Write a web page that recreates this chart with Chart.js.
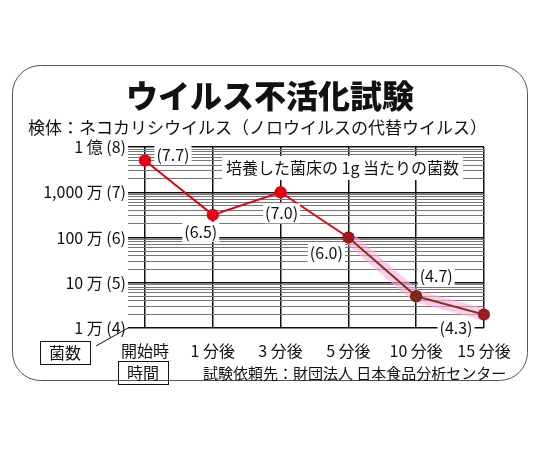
<!DOCTYPE html>
<html><head><meta charset="utf-8">
<script src="https://cdn.jsdelivr.net/npm/chart.js@4"></script>
<style>body{margin:0;background:#fff}#wrap{width:540px;height:450px}</style>
</head><body><div id="wrap"><canvas id="c"></canvas></div>
<script>
const categories = ['開始時', '1 分後', '3 分後', '5 分後', '10 分後', '15 分後'];
const logCounts = [7.7, 6.5, 7.0, 6.0, 4.7, 4.3];
const yTickLabels = ['1 万 (4)', '10 万 (5)', '100 万 (6)', '1,000 万 (7)', '1 億 (8)'];
const yTickValues = [4, 5, 6, 7, 8];

const FONT = '"Noto Sans CJK JP", "Noto Sans", sans-serif';
const labelOffsets = [[28, -6], [-12, 17], [1, 21], [-22, 15], [20, -20], [-28, 13]];
const pointColors = ['#e60012', '#e60012', '#e60012', '#a0191e', '#7a2a14', '#a0191e'];

function rrect(ctx, x, y, w, h, r) {
    ctx.beginPath();
    ctx.moveTo(x + r, y);
    ctx.arcTo(x + w, y, x + w, y + h, r);
    ctx.arcTo(x + w, y + h, x, y + h, r);
    ctx.arcTo(x, y + h, x, y, r);
    ctx.arcTo(x, y, x + w, y, r);
    ctx.closePath();
}

const decor = {
    id: 'decor',
    beforeDraw(chart) {
        const ctx = chart.ctx;
        ctx.save();
        ctx.strokeStyle = '#555';
        ctx.lineWidth = 1;
        rrect(ctx, 12.5, 65.5, 515, 315, 28);
        ctx.stroke();
        ctx.restore();
    },
    beforeDatasetsDraw(chart) {
        // pink glow behind the later segments
        const ctx = chart.ctx;
        const pts = chart.getDatasetMeta(0).data;
        ctx.save();
        ctx.strokeStyle = 'rgba(255,170,230,0.6)';
        ctx.lineWidth = 12;
        ctx.beginPath();
        ctx.moveTo(pts[3].x, pts[3].y);
        for (let i = 4; i < pts.length; i++) ctx.lineTo(pts[i].x, pts[i].y);
        ctx.stroke();
        ctx.restore();
    },
    afterDraw(chart) {
        const ctx = chart.ctx;
        const x = chart.scales.x, y = chart.scales.y;
        const area = chart.chartArea;
        ctx.save();
        ctx.fillStyle = '#111';
        ctx.font = '900 32px ' + FONT;
        ctx.textAlign = 'center';
        ctx.textBaseline = 'middle';
        ctx.fillText('ウイルス不活化試験', 270, 96);
        ctx.font = '17px ' + FONT;
        ctx.textAlign = 'left';
        ctx.fillText('検体：ネコカリシウイルス（ノロウイルスの代替ウイルス）', 28, 128);

        // y labels
        ctx.font = '16px ' + FONT;
        ctx.textAlign = 'right';
        yTickValues.forEach((v, i) => ctx.fillText(yTickLabels[i], 126, y.getPixelForValue(v)));
        // x labels
        ctx.textAlign = 'center';
        categories.forEach((c, i) => ctx.fillText(c, x.getPixelForValue(i), 351));

        // inner caption
        const cap = '培養した菌床の 1g 当たりの菌数';
        const cw = ctx.measureText(cap).width;
        ctx.fillStyle = '#fff';
        ctx.fillRect(222, 156, cw + 8, 24);
        ctx.fillStyle = '#111';
        ctx.textAlign = 'left';
        ctx.fillText(cap, 226, 168);

        // value labels
        ctx.textAlign = 'center';
        const pts = chart.getDatasetMeta(0).data;
        logCounts.forEach((v, i) => {
            const t = '(' + v.toFixed(1) + ')';
            const lx = pts[i].x + labelOffsets[i][0], ly = pts[i].y + labelOffsets[i][1];
            const w = ctx.measureText(t).width;
            ctx.fillStyle = '#fff';
            ctx.fillRect(lx - w / 2 - 2, ly - 10, w + 4, 20);
            ctx.fillStyle = '#111';
            ctx.fillText(t, lx, ly);
        });
        // redraw points over labels
        pts.forEach((p, i) => {
            ctx.beginPath();
            ctx.arc(p.x, p.y, 6, 0, Math.PI * 2);
            ctx.fillStyle = pointColors[i];
            ctx.fill();
        });

        // corner diagonal and boxes
        ctx.fillStyle = '#111';
        ctx.strokeStyle = '#111';
        ctx.lineWidth = 1;
        ctx.beginPath();
        ctx.moveTo(area.left, area.bottom);
        ctx.lineTo(96, 346);
        ctx.stroke();
        ctx.strokeRect(40.5, 341.5, 50, 23);
        ctx.strokeRect(118.5, 361.5, 50, 23);
        ctx.font = '16px ' + FONT;
        ctx.fillText('菌数', 65, 353);
        ctx.fillText('時間', 143, 373);
        ctx.font = '15px ' + FONT;
        ctx.textAlign = 'left';
        ctx.fillText('試験依頼先：財団法人 日本食品分析センター', 203, 373);
        ctx.restore();
    }
};

const minorTicks = [];
for (let d = 4; d < 8; d++) for (let k = 1; k < 10; k++) minorTicks.push(d + Math.log10(k));
minorTicks.push(8);

new Chart(document.getElementById('c'), {
    type: 'line',
    data: {
        datasets: [{
            data: logCounts.map((v, i) => ({ x: i, y: v })),
            borderWidth: 2,
            borderColor: '#e60012',
            segment: { borderColor: c => c.p0DataIndex >= 3 ? '#7a3a14' : '#e60012' },
            pointRadius: 6,
            pointBackgroundColor: pointColors,
            pointBorderWidth: 0
        }]
    },
    options: {
        responsive: true,
        maintainAspectRatio: false,
        animation: false,
        layout: { padding: { left: 128, right: 56, top: 147, bottom: 122 } },
        plugins: { legend: { display: false }, tooltip: { enabled: false } },
        scales: {
            x: {
                type: 'linear', min: -0.25, max: 5,
                afterBuildTicks: s => { s.ticks = [0, 1, 2, 3, 4, 5].map(v => ({ value: v })); },
                ticks: { display: false },
                grid: { color: '#111', lineWidth: 1.5, drawTicks: false },
                border: { display: false }
            },
            y: {
                min: 4, max: 8,
                afterBuildTicks: s => { s.ticks = minorTicks.map(v => ({ value: v })); },
                ticks: { display: false },
                grid: {
                    drawTicks: false,
                    color: c => Math.abs(c.tick.value - Math.round(c.tick.value)) < 1e-6 ? '#111' : '#777',
                    lineWidth: c => Math.abs(c.tick.value - Math.round(c.tick.value)) < 1e-6 ? 1.5 : 1
                },
                border: { display: false }
            }
        }
    },
    plugins: [decor]
});
</script></body></html>
